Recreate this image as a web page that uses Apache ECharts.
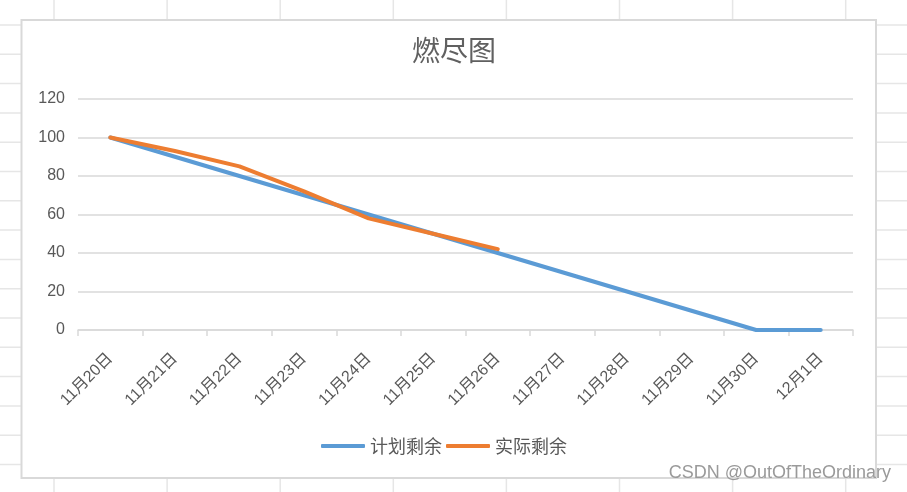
<!DOCTYPE html>
<html>
<head>
<meta charset="utf-8">
<script src="https://cdn.jsdelivr.net/npm/echarts@6/dist/echarts.min.js"></script>
<style>
html,body{margin:0;padding:0;background:#fff;}
#main{width:907px;height:492px;}
</style>
</head>
<body>
<div id="main"></div>
<script>
const categories = ['11月20日','11月21日','11月22日','11月23日','11月24日','11月25日','11月26日','11月27日','11月28日','11月29日','11月30日','12月1日'];
const plannedRemaining = [100, 90, 80, 70, 60, 50, 40, 30, 20, 10, 0, 0];
const actualRemaining = [100, 93, 85, 72, 58, 50, 42, null, null, null, null, null];
const yTicks = { min: 0, max: 120, interval: 20 };
const seriesNames = ['计划剩余', '实际剩余'];

const FONT = '"Liberation Sans", "Noto Sans CJK SC", sans-serif';
const TEXT = '#595959';

// spreadsheet background cells (decoration)
const sheet = [];
for (let k = 0; k < 8; k++) {
  const x = 54 + 113.1 * k;
  sheet.push({ type: 'line', z: -10, silent: true, shape: { x1: x, y1: 0, x2: x, y2: 492 }, style: { stroke: '#e6e6e6', lineWidth: 1.5 } });
}
for (let k = -1; k < 17; k++) {
  const y = 25 + 29.3 * k;
  sheet.push({ type: 'line', z: -10, silent: true, shape: { x1: 0, y1: y, x2: 907, y2: y }, style: { stroke: '#e6e6e6', lineWidth: 1.5 } });
}
sheet.push({ type: 'rect', z: -5, silent: true, shape: { x: 21.5, y: 20, width: 854.5, height: 458 }, style: { fill: '#fff', stroke: '#d9d9d9', lineWidth: 2 } });
sheet.push({ type: 'text', z: 100, silent: true, right: 16, top: 464, style: { text: 'CSDN @OutOfTheOrdinary', font: '18px "Liberation Sans", sans-serif', fill: '#9a9a9a' } });

const chart = echarts.init(document.getElementById('main'), null, { renderer: 'canvas' });
chart.setOption({
  animation: false,
  backgroundColor: '#fff',
  title: {
    text: '燃尽图',
    left: 449, textAlign: 'center', top: 31,
    textStyle: { fontFamily: '"Noto Sans CJK SC", sans-serif', fontSize: 28, fontWeight: 'normal', color: '#606060' }
  },
  legend: {
    left: 321, top: 437, padding: 0,
    itemWidth: 44, itemHeight: 4, itemGap: 4,
    icon: 'roundRect',
    textStyle: { fontFamily: '"Noto Sans CJK SC", sans-serif', fontSize: 18, color: TEXT },
    data: seriesNames
  },
  grid: { left: 78, right: 54, top: 99, bottom: 162 },
  xAxis: {
    type: 'category',
    data: categories,
    boundaryGap: true,
    axisLine: { lineStyle: { color: '#d9d9d9', width: 1.5 } },
    axisTick: { show: true, length: 6, lineStyle: { color: '#d9d9d9', width: 1.5 } },
    axisLabel: { rotate: 45, margin: 26, fontFamily: FONT, fontSize: 16, color: TEXT, interval: 0 }
  },
  yAxis: {
    type: 'value',
    min: yTicks.min, max: yTicks.max, interval: yTicks.interval,
    axisLine: { show: false },
    axisTick: { show: false },
    splitLine: { lineStyle: { color: '#d9d9d9', width: 1.5 } },
    axisLabel: { margin: 13, fontFamily: FONT, fontSize: 16, color: TEXT }
  },
  series: [
    {
      name: seriesNames[0], type: 'line', data: plannedRemaining,
      symbol: 'none', color: '#5B9BD5',
      lineStyle: { width: 4, color: '#5B9BD5', cap: 'round', join: 'round' }
    },
    {
      name: seriesNames[1], type: 'line', data: actualRemaining,
      symbol: 'none', color: '#ED7D31', connectNulls: false,
      lineStyle: { width: 4, color: '#ED7D31', cap: 'round', join: 'round' }
    }
  ],
  graphic: sheet
});
</script>
</body>
</html>
